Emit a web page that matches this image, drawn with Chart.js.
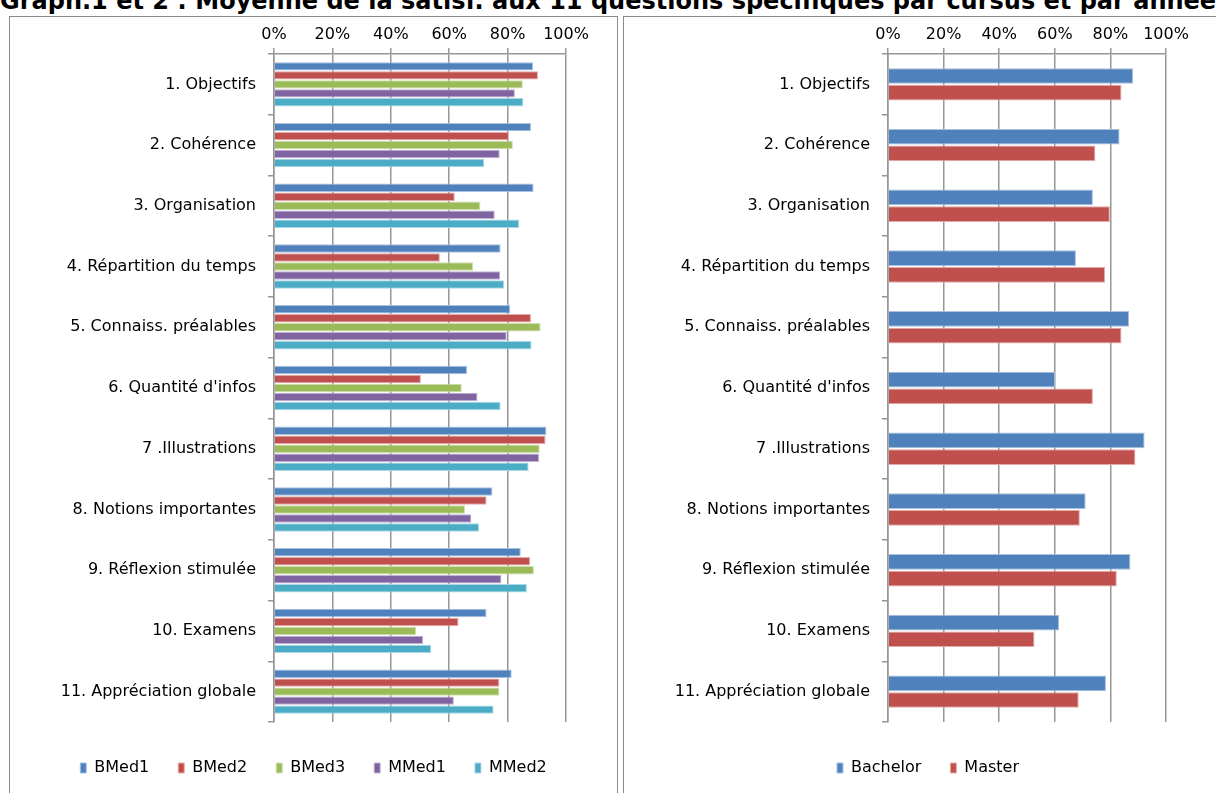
<!DOCTYPE html>
<html>
<head>
<meta charset="utf-8">
<script src="https://cdn.jsdelivr.net/npm/chart.js@4"></script>
<style>
  body { margin: 0; background: #fff; width: 1216px; height: 793px; overflow: hidden; position: relative; font-family: "DejaVu Sans", sans-serif; }
  #titre { position: absolute; left: 0; top: -13px; white-space: nowrap; font-weight: bold; font-size: 24px; color: #000; }
  .panneau { position: absolute; top: 16px; border: 1px solid #8a8a8a; background: #fff; }
  #p1 { left: 9px; width: 607px; height: 790px; }
  #p2 { left: 623px; width: 608px; height: 790px; }
  canvas { display: block; }
</style>
</head>
<body>
<div id="titre">Graph.1 et 2 : Moyenne de la satisf. aux 11 questions spécifiques par cursus et par année</div>
<div class="panneau" id="p1"><canvas id="grafAnnee" width="607" height="777"></canvas></div>
<div class="panneau" id="p2"><canvas id="grafCursus" width="608" height="777"></canvas></div>
<script>
// --- Données ---
const questions = ['1. Objectifs', '2. Cohérence', '3. Organisation', '4. Répartition du temps',
  '5. Connaiss. préalables', "6. Quantité d'infos", '7 .Illustrations', '8. Notions importantes',
  '9. Réflexion stimulée', '10. Examens', '11. Appréciation globale'];

const bmed1 = [88.7, 88.0, 88.9, 77.6, 80.9, 66.1, 93.3, 74.8, 84.5, 72.8, 81.4];
const bmed2 = [90.4, 80.4, 61.9, 56.8, 88.0, 50.3, 93.0, 72.8, 87.7, 63.2, 77.2];
const bmed3 = [85.2, 81.8, 70.7, 68.2, 91.3, 64.3, 91.0, 65.4, 89.0, 48.7, 77.2];
const mmed1 = [82.5, 77.3, 75.6, 77.5, 79.7, 69.7, 90.8, 67.6, 77.9, 51.1, 61.6];
const mmed2 = [85.4, 72.0, 84.0, 78.8, 88.2, 77.6, 87.2, 70.2, 86.6, 53.8, 75.2];

const bachelor = [88.2, 83.3, 73.7, 67.6, 86.7, 60.1, 92.3, 71.1, 87.2, 61.6, 78.4];
const master   = [84.0, 74.6, 79.8, 78.1, 84.0, 73.7, 89.0, 69.0, 82.3, 52.7, 68.6];

const echelleMin = 0;
const echelleMax = 100;
const echellePas = 20;

// Couleurs style Office
const couleurs = {
  bleu:   ['#4f81bd', '#a9c0de'],
  rouge:  ['#c0504d', '#e3aaa8'],
  vert:   ['#9bbb59', '#cfdeb0'],
  violet: ['#8064a2', '#c2b3d4'],
  cyan:   ['#4bacc6', '#a9d8e5']
};

const police = { family: '"DejaVu Sans", sans-serif', size: 16 };
const gris = '#969696';

function serie(label, data, c) {
  return { label: label, data: data, backgroundColor: c[0], borderColor: c[1], borderWidth: 1, borderSkipped: 'start' };
}

/**
 * Options communes aux deux graphiques (barres horizontales, axe % en haut).
 * margeDroite : largeur réservée à droite de la zone de tracé.
 */
function optionsGraph(pctCategorie, margeDroite, espaceLegende) {
  return {
    indexAxis: 'y',
    responsive: false,
    animation: false,
    layout: { padding: { top: 0, left: 0, right: 0, bottom: 8 } },
    datasets: { bar: { categoryPercentage: pctCategorie, barPercentage: 0.94 } },
    plugins: {
      legend: {
        position: 'bottom',
        labels: { boxWidth: 6, boxHeight: 10, padding: espaceLegende, font: police, color: '#000' },
        // titre vide : sert seulement à descendre la légende
        title: { display: true, text: ' ', font: { size: 5 }, padding: { top: 46 - 8 - espaceLegende - 6, bottom: 0 } }
      },
      tooltip: { enabled: false }
    },
    scales: {
      x: {
        position: 'top',
        min: echelleMin,
        max: echelleMax,
        ticks: { stepSize: echellePas, callback: v => v + '%', padding: 4, font: police, color: '#000', maxRotation: 0 },
        grid: { color: gris, lineWidth: 1.5, tickLength: 6 },
        border: { color: gris, width: 1.5 },
        afterFit: s => { s.height = 37; }
      },
      y: {
        grid: { offset: true, drawOnChartArea: false, tickLength: 6, color: gris, lineWidth: 1.5 },
        border: { color: gris, width: 1.5 },
        ticks: { padding: 12, font: police, color: '#000' },
        afterFit: s => { s.width = 264; }
      },
      // axe vide à droite, pour placer le bord droit de la zone de tracé
      marge: {
        type: 'linear',
        position: 'right',
        display: true,
        ticks: { display: false },
        grid: { display: false },
        border: { display: false },
        afterFit: s => { s.width = margeDroite; }
      }
    }
  };
}

// Graphique 1 : par année
new Chart(document.getElementById('grafAnnee'), {
  type: 'bar',
  data: {
    labels: questions,
    datasets: [
      serie('BMed1', bmed1, couleurs.bleu),
      serie('BMed2', bmed2, couleurs.rouge),
      serie('BMed3', bmed3, couleurs.vert),
      serie('MMed1', mmed1, couleurs.violet),
      serie('MMed2', mmed2, couleurs.cyan)
    ]
  },
  options: optionsGraph(0.74, 51, 29)
});

// Graphique 2 : par cursus
new Chart(document.getElementById('grafCursus'), {
  type: 'bar',
  data: {
    labels: questions,
    datasets: [
      serie('Bachelor', bachelor, couleurs.bleu),
      serie('Master', master, couleurs.rouge)
    ]
  },
  options: optionsGraph(0.55, 66, 29)
});
</script>
</body>
</html>
